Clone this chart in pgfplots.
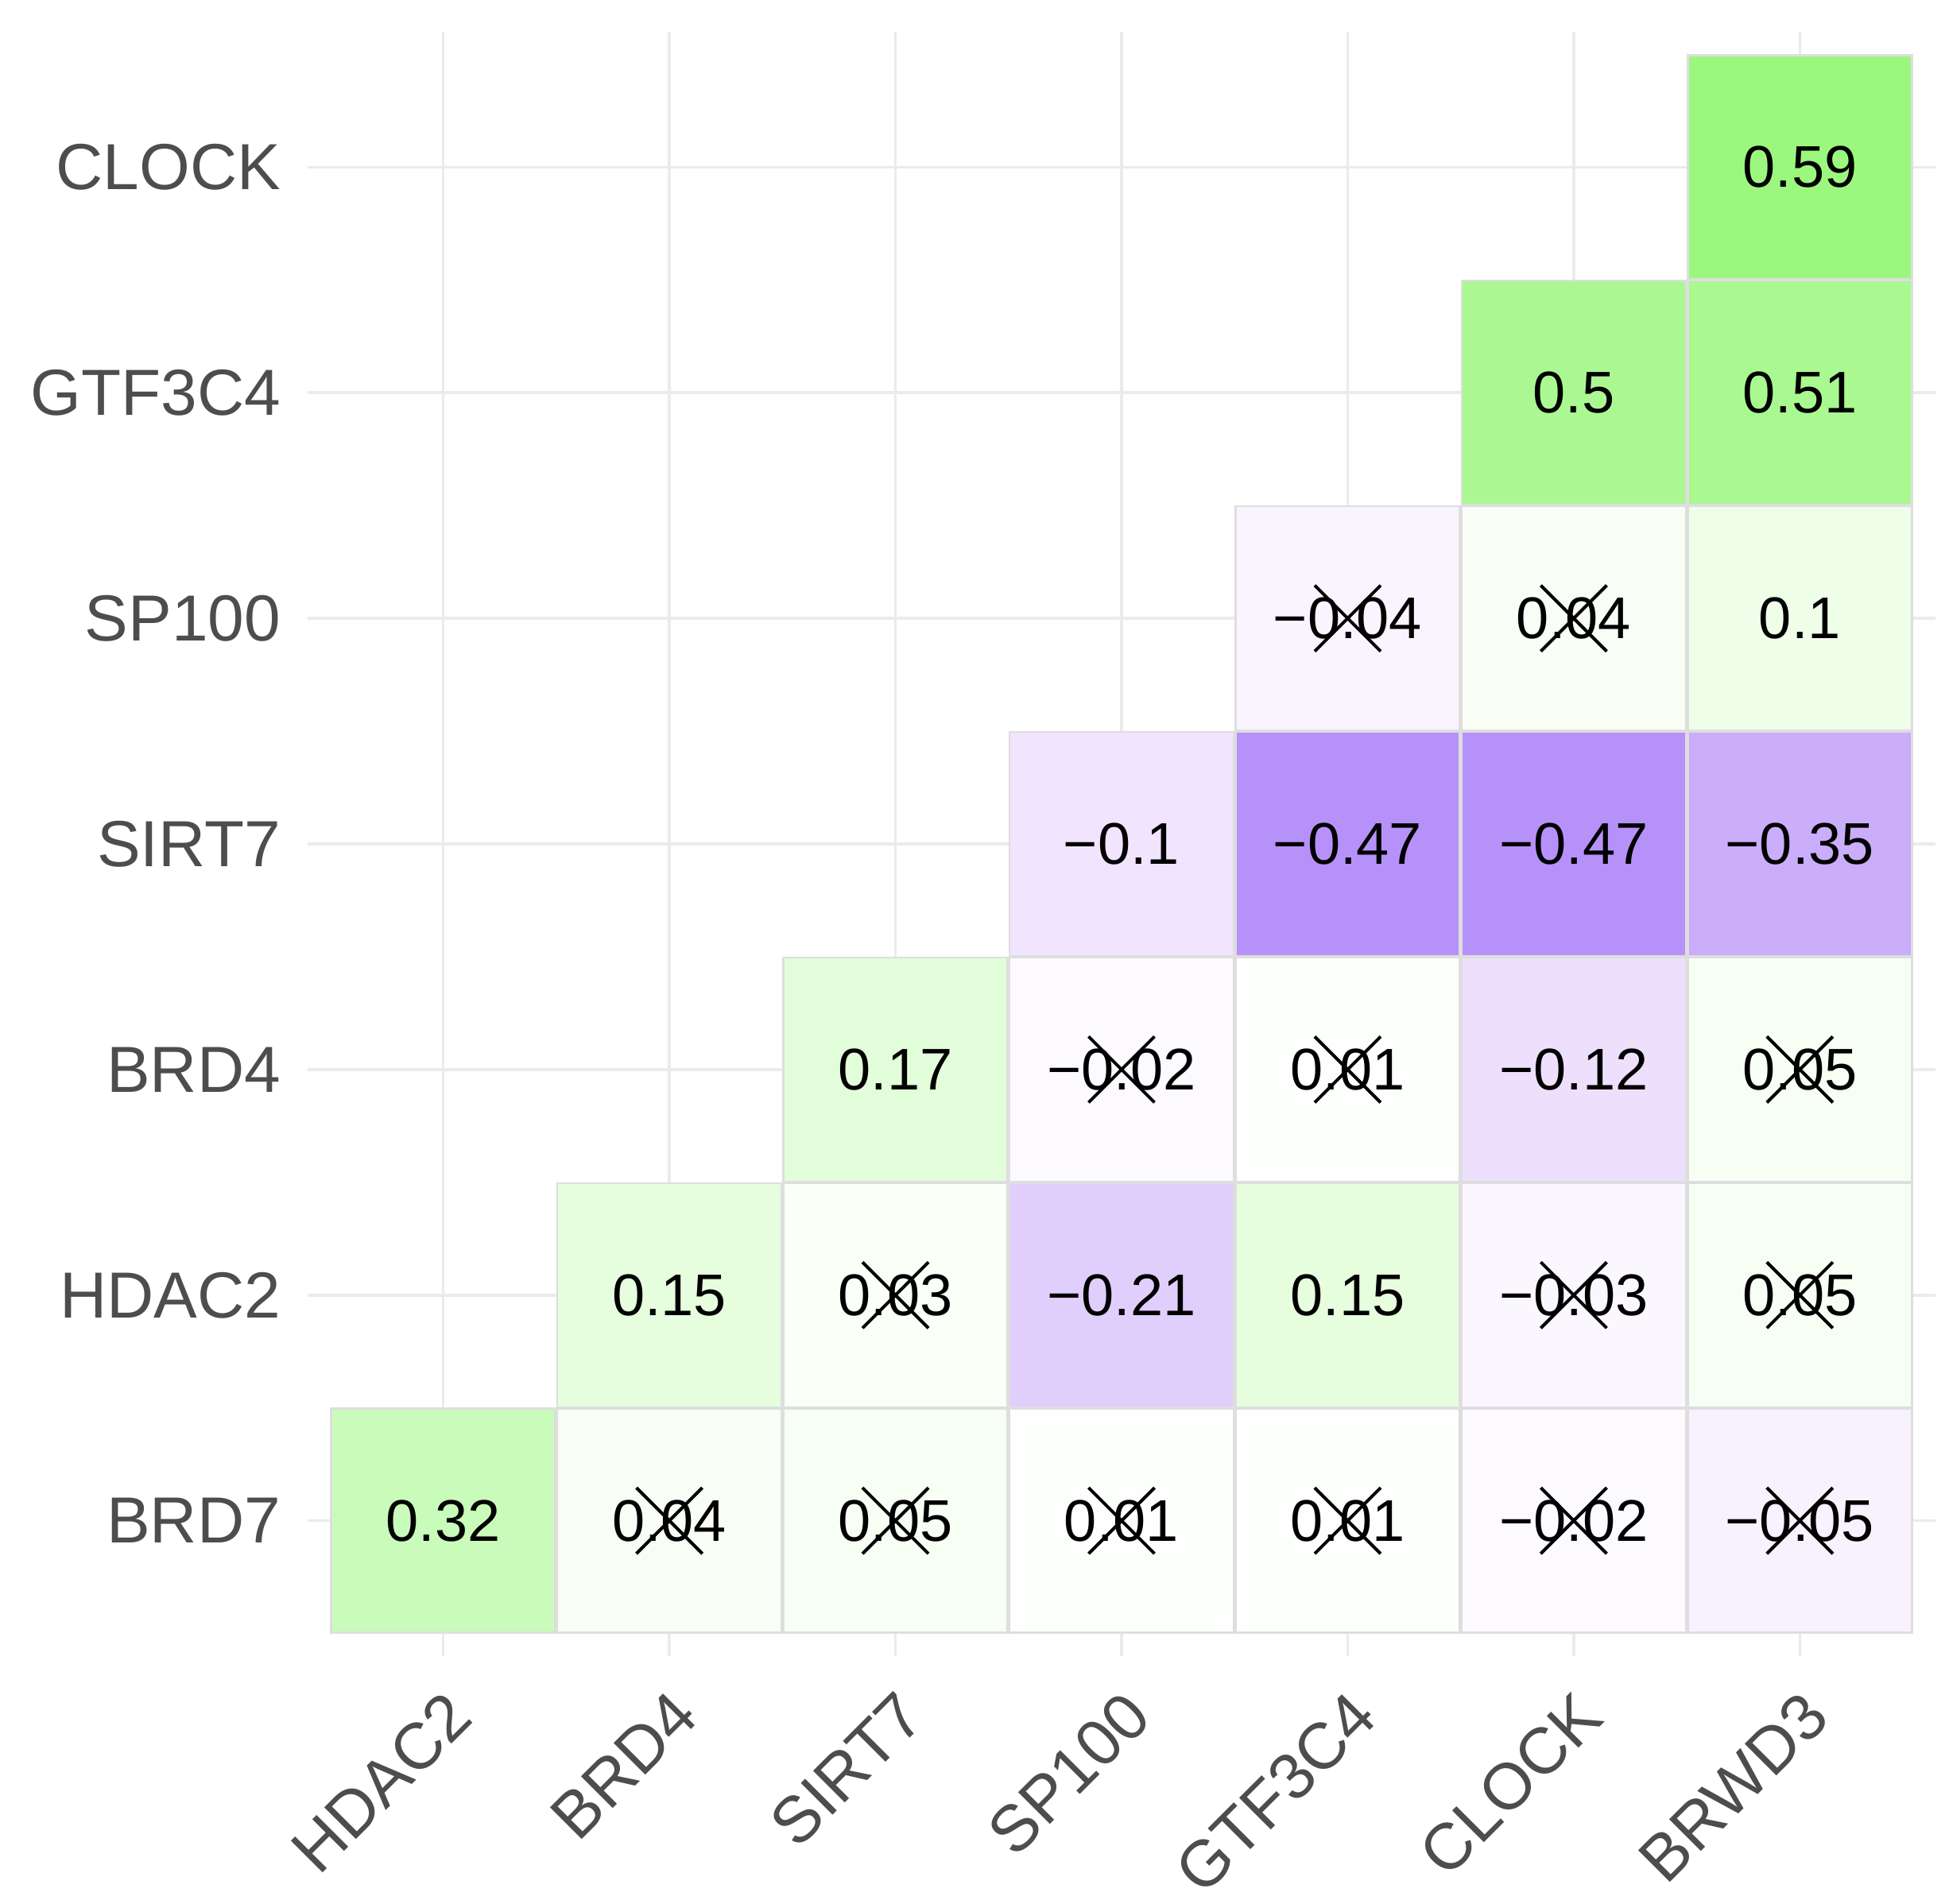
\documentclass[border=0pt]{standalone}
\usepackage{pgfplots}
\pgfplotsset{compat=1.18}
\usepackage{pgfplotstable}
\usepackage{fontspec}
\setmainfont{Liberation Sans}
\definecolor{gridc}{HTML}{EBEBEB}
\definecolor{labc}{HTML}{4D4D4D}
\definecolor{cellb}{HTML}{DEDEDE}

% columns: 0 HDAC2, 1 BRD4, 2 SIRT7, 3 SP100, 4 GTF3C4, 5 CLOCK, 6 BRWD3
% rows:    0 BRD7, 1 HDAC2, 2 BRD4, 3 SIRT7, 4 SP100, 5 GTF3C4, 6 CLOCK
\pgfplotstableread{
x y v lab
0 0 0.32 0.32
1 0 0.04 0.04
2 0 0.05 0.05
3 0 0.01 0.01
4 0 0.01 0.01
5 0 -0.02 −0.02
6 0 -0.05 −0.05
1 1 0.15 0.15
2 1 0.03 0.03
3 1 -0.21 −0.21
4 1 0.15 0.15
5 1 -0.03 −0.03
6 1 0.05 0.05
2 2 0.17 0.17
3 2 -0.02 −0.02
4 2 0.01 0.01
5 2 -0.12 −0.12
6 2 0.05 0.05
3 3 -0.10 −0.1
4 3 -0.47 −0.47
5 3 -0.47 −0.47
6 3 -0.35 −0.35
4 4 -0.04 −0.04
5 4 0.04 0.04
6 4 0.10 0.1
5 5 0.50 0.5
6 5 0.51 0.51
6 6 0.59 0.59
}\corr

\begin{document}
\begin{tikzpicture}
\useasboundingbox (-38.7pt,-31.2pt) rectangle (206.5pt,208.4pt);
\begin{axis}[
  at={(0,0)}, anchor=south west,
  scale only axis, width=204.8pt, height=204.4pt,
  xmin=-0.6, xmax=6.6, ymin=-0.6, ymax=6.6,
  axis line style={draw=none}, major tick length=0pt,
  xtick={0,...,6}, ytick={0,...,6},
  xticklabels={HDAC2,BRD4,SIRT7,SP100,GTF3C4,CLOCK,BRWD3},
  yticklabels={BRD7,HDAC2,BRD4,SIRT7,SP100,GTF3C4,CLOCK},
  xmajorgrids, ymajorgrids,
  grid style={gridc, line width=0.35pt},
  tick label style={font=\fontsize{8.2}{9}\selectfont, text=labc},
  x tick label style={rotate=45, anchor=north east, inner sep=0pt},
  xticklabel shift=3.8pt,
  y tick label style={anchor=east, inner sep=0pt, xshift=-3.2pt},
  colormap={corr}{rgb255(0cm)=(163,115,249); rgb255(3.9cm)=(224,206,252);
    rgb255(5cm)=(241,228,253); rgb255(6cm)=(255,255,255); rgb255(12cm)=(154,247,125)},
  point meta min=-0.6, point meta max=0.6,
  clip=false,
]
\addplot[scatter, only marks, mark=square*, mark size=14.1pt,
  scatter/use mapped color={draw=cellb, fill=mapped color},
  mark options={line width=0.25pt},
  point meta=explicit] table[x=x, y=y, meta=v] {\corr};
\addplot[only marks, mark=none, nodes near coords, point meta=explicit symbolic,
  every node near coord/.append style={anchor=center, inner sep=0pt,
    font=\fontsize{7.4}{8}\selectfont, text=black}]
  table[x=x, y=y, meta=lab] {\corr};
\addplot[only marks, mark=x, mark size=5.87pt,
  mark options={line width=0.4pt, draw=black}] coordinates {
  (1,0) (2,0) (3,0) (4,0) (5,0) (6,0)
  (2,1) (5,1) (6,1)
  (3,2) (4,2) (6,2)
  (4,4) (5,4)
};
\end{axis}
\end{tikzpicture}
\end{document}
